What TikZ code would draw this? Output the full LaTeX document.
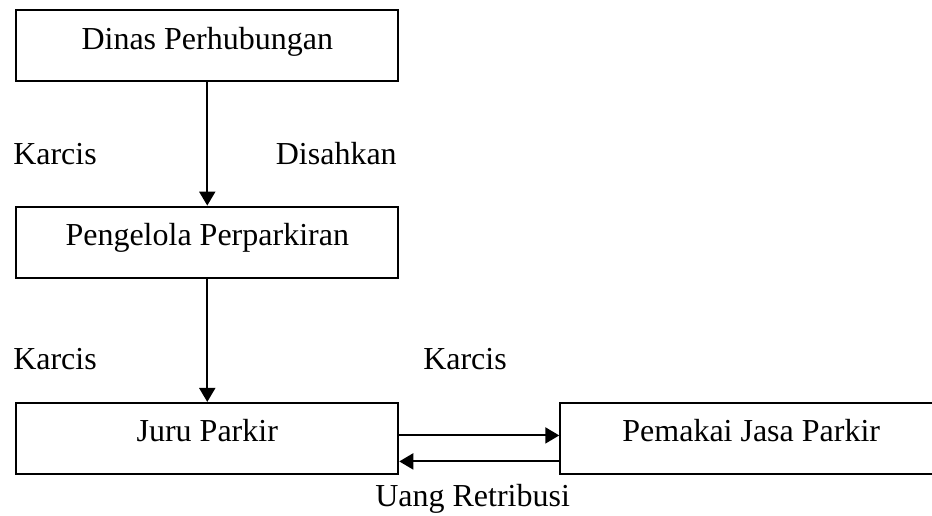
\documentclass[tikz,border=0pt]{standalone}
\usepackage{fontspec}
\setmainfont{Liberation Serif}
\usepackage{xcolor}
\usepackage{tikz}
\usetikzlibrary{arrows.meta}

\begin{document}
\begin{tikzpicture}[x=0.75pt, y=-0.75pt,
  font=\fontsize{24pt}{28pt}\selectfont,
  unit/.style={rectangle, draw=black, line width=1.5pt, minimum width=286.5pt, minimum height=53.25pt, text height=15pt, text depth=9.75pt, inner sep=0pt},
  note/.style={inner sep=0pt},
  line/.style={draw, line width=1.5pt, -{Triangle[length=10.5pt, width=12pt]}}]
\useasboundingbox (0,0) rectangle (932,516);
\matrix[anchor=north west, inner sep=0pt, column sep=120pt, row sep=92.5pt] at (15,9) {
  \node[unit] (dinas) {Dinas Perhubungan};
  & \\
  \node[unit] (pengelola) {Pengelola Perparkiran};
  & \\
  \node[unit] (juru) {Juru Parkir};
  & \node[unit] (pemakai) {Pemakai Jasa Parkir};\\
};
\node[note, anchor=base west] (karcisa) at (13,165) {Karcis};
\node[note, anchor=base east] (disahkan) at (397,165) {Disahkan};
\node[note, anchor=base west] (karcisb) at (13,370) {Karcis};
\node[note, anchor=base west] (karcisc) at (423,370) {Karcis};
\node[note, anchor=base west] (uang) at (375,507) {Uang Retribusi};
\begin{scope} [every path/.style=line]
\path (dinas) -- (pengelola);
\path (pengelola) -- (juru);
\path ([yshift=2.25pt]juru.east) -- ([yshift=2.25pt]juru.east -| pemakai.west);
\path ([yshift=-17.25pt]pemakai.west) -- ([yshift=-17.25pt]pemakai.west -| juru.east);
\end{scope}
\end{tikzpicture}
\end{document}
